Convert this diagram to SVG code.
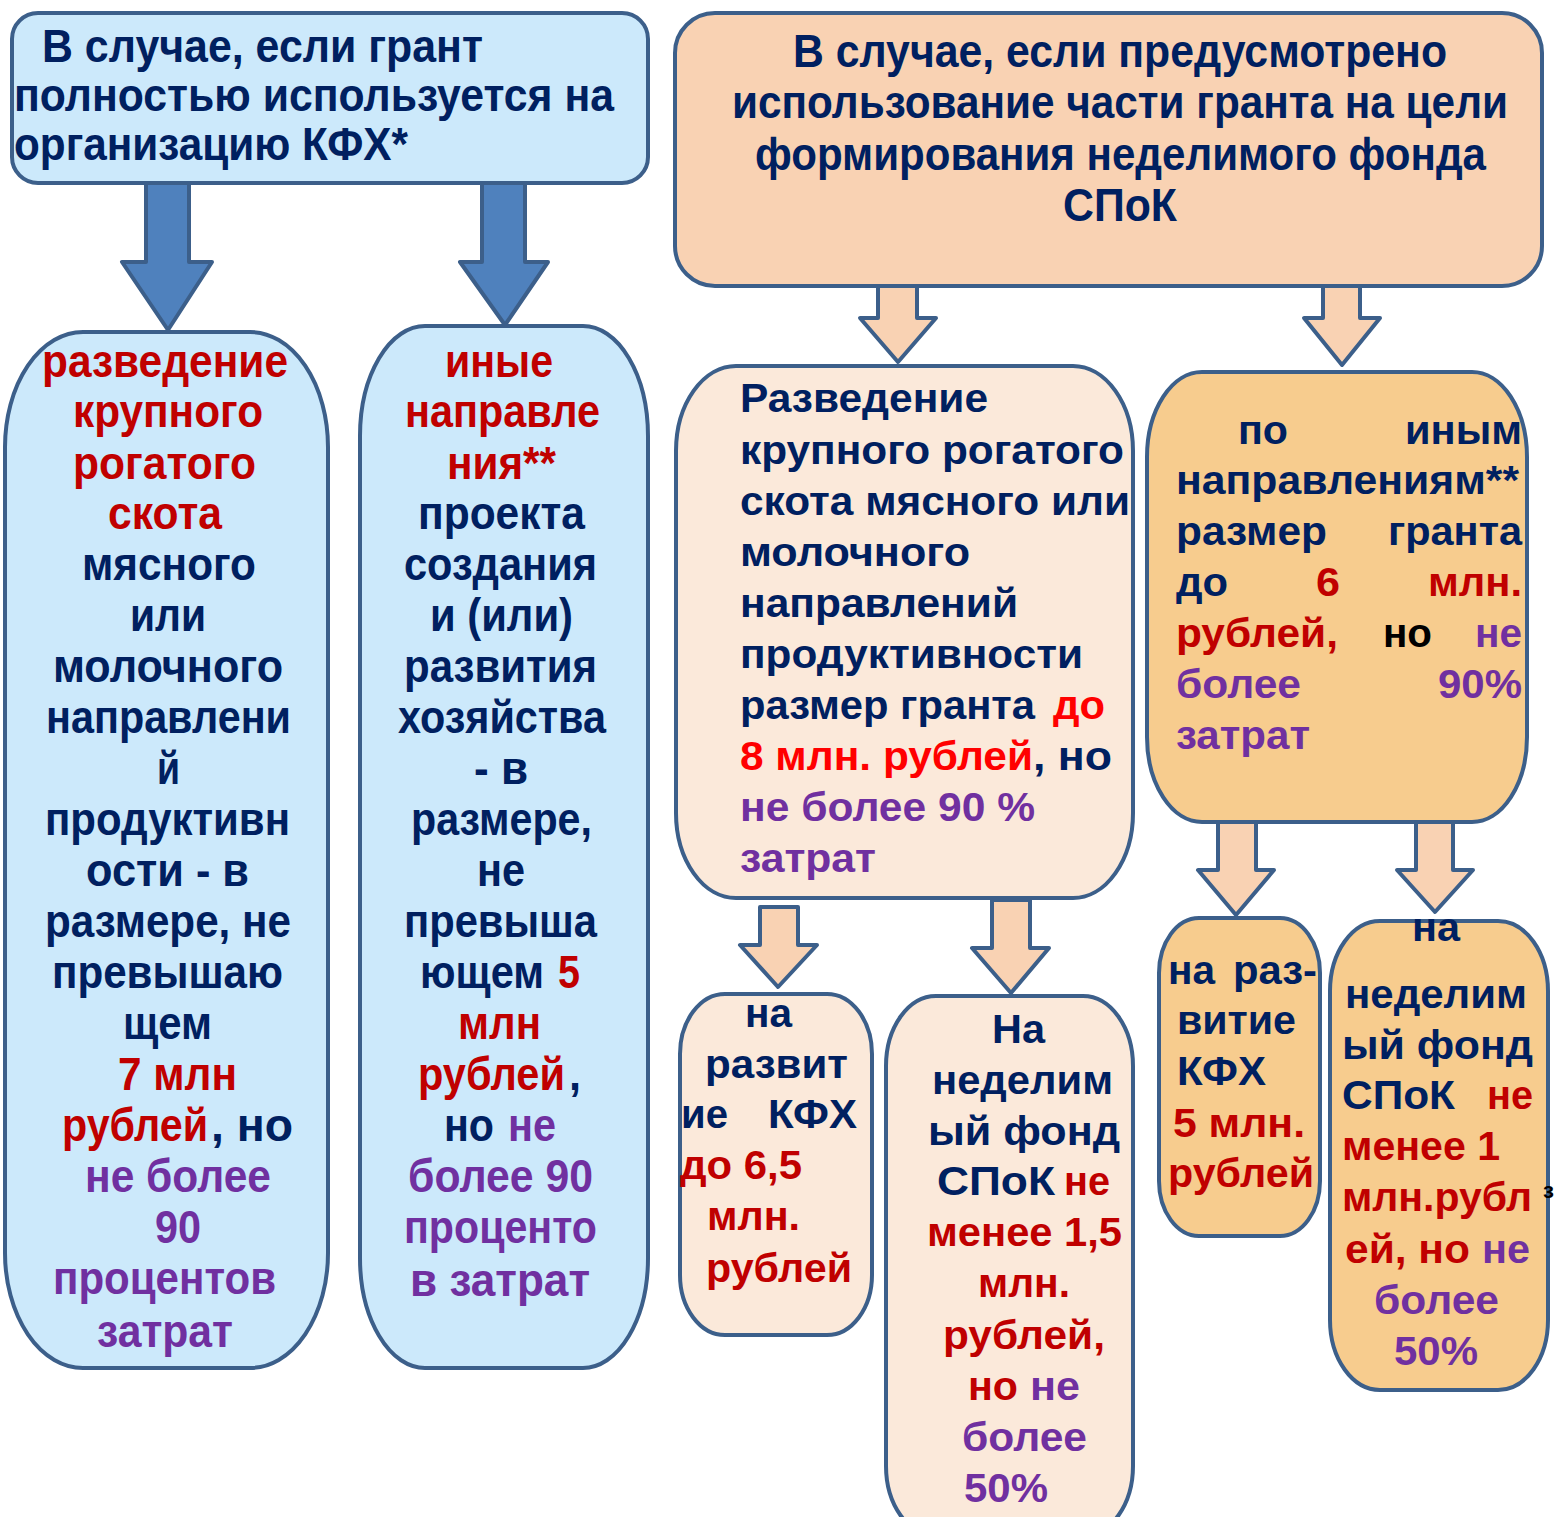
<svg xmlns="http://www.w3.org/2000/svg" width="1554" height="1517" viewBox="0 0 1554 1517">
<style>
.box{stroke:#3C5F8A;stroke-width:4}
.blue{fill:#CCE9FB}
.peach{fill:#F9D2B3}
.cream{fill:#FBE9DA}
.orange{fill:#F7CC8E}
.ab{fill:#4F81BD;stroke:#3C5F8A;stroke-width:4;stroke-linejoin:round}
.ap{fill:#F9D2B3;stroke:#3C5F8A;stroke-width:4;stroke-linejoin:round}
text{font-family:"Liberation Sans",Arial,sans-serif;font-weight:bold}
.c{font-size:46px}
.w{font-size:40px}
.n{fill:#002060}
.r{fill:#C00000}
.R{fill:#FF0000}
.p{fill:#7030A0}
.k{fill:#000000}
</style>
<rect width="1554" height="1517" fill="#FFFFFF"/>
<g id="connectors">
<polygon class="ab" points="146,183 189,183 189,262 212,262 168,330 122,262 146,262"/>
<polygon class="ab" points="482,183 525,183 525,262 548,262 505,325 460,262 482,262"/>
<polygon class="ap" points="878,286 917,286 917,318 936,318 898,362 860,318 878,318"/>
<polygon class="ap" points="1323,286 1360,286 1360,318 1380,318 1342,365 1304,318 1323,318"/>
<polygon class="ap" points="760,907 798,907 798,945 817,945 778,987 740,945 760,945"/>
<polygon class="ap" points="992,900 1030,900 1030,948 1049,948 1011,993 972,948 992,948"/>
<polygon class="ap" points="1218,822 1256,822 1256,870 1274,870 1236,915 1198,870 1218,870"/>
<polygon class="ap" points="1416,822 1453,822 1453,870 1473,870 1435,912 1397,870 1416,870"/>
</g>
<g id="top-left">
<rect class="box blue" x="12" y="13" width="636" height="170" rx="26" ry="26"/>
<text class="c n" x="42" y="62" textLength="441" lengthAdjust="spacingAndGlyphs">В случае, если грант</text>
<text class="c n" x="14" y="111" textLength="600" lengthAdjust="spacingAndGlyphs">полностью  используется на</text>
<text class="c n" x="14" y="160" textLength="394" lengthAdjust="spacingAndGlyphs">организацию КФХ*</text>
</g>
<g id="top-right">
<rect class="box peach" x="675" y="13" width="867" height="273" rx="40" ry="40"/>
<text class="c n" x="793" y="67" textLength="654" lengthAdjust="spacingAndGlyphs">В случае, если предусмотрено</text>
<text class="c n" x="732" y="118" textLength="776" lengthAdjust="spacingAndGlyphs">использование части гранта на цели</text>
<text class="c n" x="755" y="170" textLength="731" lengthAdjust="spacingAndGlyphs">формирования  неделимого фонда</text>
<text class="c n" x="1063" y="221" textLength="114" lengthAdjust="spacingAndGlyphs">СПоК</text>
</g>
<g id="col-1">
<rect class="box blue" x="5" y="332" width="323" height="1036" rx="78" ry="115"/>
<text class="c r" x="42" y="377" textLength="246" lengthAdjust="spacingAndGlyphs">разведение</text>
<text class="c r" x="73" y="427" textLength="190" lengthAdjust="spacingAndGlyphs">крупного</text>
<text class="c r" x="73" y="479" textLength="183" lengthAdjust="spacingAndGlyphs">рогатого</text>
<text class="c r" x="108" y="529" textLength="114" lengthAdjust="spacingAndGlyphs">скота</text>
<text class="c n" x="82" y="580" textLength="174" lengthAdjust="spacingAndGlyphs">мясного</text>
<text class="c n" x="130" y="631" textLength="76" lengthAdjust="spacingAndGlyphs">или</text>
<text class="c n" x="53" y="682" textLength="230" lengthAdjust="spacingAndGlyphs">молочного</text>
<text class="c n" x="46" y="733" textLength="245" lengthAdjust="spacingAndGlyphs">направлени</text>
<text class="c n" x="157" y="784" textLength="23" lengthAdjust="spacingAndGlyphs">й</text>
<text class="c n" x="45" y="835" textLength="245" lengthAdjust="spacingAndGlyphs">продуктивн</text>
<text class="c n" x="86" y="886" textLength="163" lengthAdjust="spacingAndGlyphs">ости -  в</text>
<text class="c n" x="45" y="937" textLength="246" lengthAdjust="spacingAndGlyphs">размере, не</text>
<text class="c n" x="52" y="988" textLength="231" lengthAdjust="spacingAndGlyphs">превышаю</text>
<text class="c n" x="123" y="1039" textLength="89" lengthAdjust="spacingAndGlyphs">щем</text>
<text class="c r" x="118" y="1090" textLength="119" lengthAdjust="spacingAndGlyphs">7 млн</text>
<text class="c r" x="62" y="1141" textLength="146" lengthAdjust="spacingAndGlyphs">рублей</text>
<text class="c n" x="211" y="1141" textLength="82" lengthAdjust="spacingAndGlyphs">,  но</text>
<text class="c p" x="85" y="1192" textLength="186" lengthAdjust="spacingAndGlyphs">не более</text>
<text class="c p" x="155" y="1243" textLength="46" lengthAdjust="spacingAndGlyphs">90</text>
<text class="c p" x="53" y="1294" textLength="223" lengthAdjust="spacingAndGlyphs">процентов</text>
<text class="c p" x="97" y="1347" textLength="136" lengthAdjust="spacingAndGlyphs">затрат</text>
</g>
<g id="col-2">
<rect class="box blue" x="360" y="326" width="288" height="1042" rx="65" ry="110"/>
<text class="c r" x="445" y="377" textLength="108" lengthAdjust="spacingAndGlyphs">иные</text>
<text class="c r" x="405" y="427" textLength="195" lengthAdjust="spacingAndGlyphs">направле</text>
<text class="c r" x="447" y="479" textLength="109" lengthAdjust="spacingAndGlyphs">ния**</text>
<text class="c n" x="418" y="529" textLength="167" lengthAdjust="spacingAndGlyphs">проекта</text>
<text class="c n" x="404" y="580" textLength="193" lengthAdjust="spacingAndGlyphs">создания</text>
<text class="c n" x="430" y="631" textLength="143" lengthAdjust="spacingAndGlyphs">и (или)</text>
<text class="c n" x="404" y="682" textLength="193" lengthAdjust="spacingAndGlyphs">развития</text>
<text class="c n" x="398" y="733" textLength="208" lengthAdjust="spacingAndGlyphs">хозяйства</text>
<text class="c n" x="474" y="784" textLength="54" lengthAdjust="spacingAndGlyphs">- в</text>
<text class="c n" x="411" y="835" textLength="181" lengthAdjust="spacingAndGlyphs">размере,</text>
<text class="c n" x="477" y="886" textLength="48" lengthAdjust="spacingAndGlyphs">не</text>
<text class="c n" x="404" y="937" textLength="193" lengthAdjust="spacingAndGlyphs">превыша</text>
<text class="c n" x="420" y="988" textLength="124" lengthAdjust="spacingAndGlyphs">ющем</text>
<text class="c r" x="558" y="988" textLength="22" lengthAdjust="spacingAndGlyphs">5</text>
<text class="c r" x="458" y="1039" textLength="83" lengthAdjust="spacingAndGlyphs">млн</text>
<text class="c r" x="418" y="1090" textLength="147" lengthAdjust="spacingAndGlyphs">рублей</text>
<text class="c n" x="569" y="1090" textLength="12" lengthAdjust="spacingAndGlyphs">,</text>
<text class="c n" x="444" y="1141" textLength="50" lengthAdjust="spacingAndGlyphs">но</text>
<text class="c p" x="508" y="1141" textLength="48" lengthAdjust="spacingAndGlyphs">не</text>
<text class="c p" x="408" y="1192" textLength="185" lengthAdjust="spacingAndGlyphs">более 90</text>
<text class="c p" x="404" y="1243" textLength="193" lengthAdjust="spacingAndGlyphs">проценто</text>
<text class="c p" x="410" y="1296" textLength="180" lengthAdjust="spacingAndGlyphs">в   затрат</text>
</g>
<g id="mid">
<rect class="box cream" x="676" y="366" width="457" height="532" rx="60" ry="85"/>
<text class="w n" x="740" y="412" textLength="248" lengthAdjust="spacingAndGlyphs">Разведение</text>
<text class="w n" x="740" y="464" textLength="384" lengthAdjust="spacingAndGlyphs">крупного рогатого</text>
<text class="w n" x="740" y="515" textLength="390" lengthAdjust="spacingAndGlyphs">скота мясного или</text>
<text class="w n" x="740" y="566" textLength="230" lengthAdjust="spacingAndGlyphs">молочного</text>
<text class="w n" x="740" y="617" textLength="278" lengthAdjust="spacingAndGlyphs">направлений</text>
<text class="w n" x="740" y="668" textLength="343" lengthAdjust="spacingAndGlyphs">продуктивности</text>
<text class="w n" x="740" y="719" textLength="295" lengthAdjust="spacingAndGlyphs">размер гранта</text>
<text class="w R" x="1053" y="719" textLength="52" lengthAdjust="spacingAndGlyphs">до</text>
<text class="w R" x="740" y="770" textLength="293" lengthAdjust="spacingAndGlyphs">8 млн. рублей</text>
<text class="w n" x="1033" y="770" textLength="79" lengthAdjust="spacingAndGlyphs">, но</text>
<text class="w p" x="740" y="821" textLength="295" lengthAdjust="spacingAndGlyphs">не более 90 %</text>
<text class="w p" x="740" y="872" textLength="136" lengthAdjust="spacingAndGlyphs">затрат</text>
</g>
<g id="right">
<rect class="box orange" x="1147" y="372" width="380" height="450" rx="55" ry="85"/>
<text class="w n" x="1238" y="444" textLength="50" lengthAdjust="spacingAndGlyphs">по</text>
<text class="w n" x="1405" y="444" textLength="117" lengthAdjust="spacingAndGlyphs">иным</text>
<text class="w n" x="1176" y="494" textLength="343" lengthAdjust="spacingAndGlyphs">направлениям**</text>
<text class="w n" x="1176" y="545" textLength="151" lengthAdjust="spacingAndGlyphs">размер</text>
<text class="w n" x="1388" y="545" textLength="134" lengthAdjust="spacingAndGlyphs">гранта</text>
<text class="w n" x="1176" y="596" textLength="52" lengthAdjust="spacingAndGlyphs">до</text>
<text class="w r" x="1316" y="596" textLength="24" lengthAdjust="spacingAndGlyphs">6</text>
<text class="w r" x="1428" y="596" textLength="94" lengthAdjust="spacingAndGlyphs">млн.</text>
<text class="w r" x="1176" y="647" textLength="162" lengthAdjust="spacingAndGlyphs">рублей,</text>
<text class="w k" x="1383" y="647" textLength="49" lengthAdjust="spacingAndGlyphs">но</text>
<text class="w p" x="1475" y="647" textLength="47" lengthAdjust="spacingAndGlyphs">не</text>
<text class="w p" x="1176" y="698" textLength="125" lengthAdjust="spacingAndGlyphs">более</text>
<text class="w p" x="1438" y="698" textLength="84" lengthAdjust="spacingAndGlyphs">90%</text>
<text class="w p" x="1176" y="749" textLength="134" lengthAdjust="spacingAndGlyphs">затрат</text>
</g>
<g id="kfh-65">
<rect class="box cream" x="680" y="994" width="192" height="341" rx="45" ry="60"/>
<text class="w n" x="745" y="1027" textLength="47" lengthAdjust="spacingAndGlyphs">на</text>
<text class="w n" x="705" y="1078" textLength="143" lengthAdjust="spacingAndGlyphs">развит</text>
<text class="w n" x="681" y="1128" textLength="47" lengthAdjust="spacingAndGlyphs">ие</text>
<text class="w n" x="768" y="1128" textLength="89" lengthAdjust="spacingAndGlyphs">КФХ</text>
<text class="w r" x="680" y="1179" textLength="122" lengthAdjust="spacingAndGlyphs">до 6,5</text>
<text class="w r" x="707" y="1230" textLength="93" lengthAdjust="spacingAndGlyphs">млн.</text>
<text class="w r" x="706" y="1282" textLength="146" lengthAdjust="spacingAndGlyphs">рублей</text>
</g>
<g id="fund-15">
<rect class="box cream" x="886" y="996" width="247" height="540" rx="50" ry="70"/>
<text class="w n" x="992" y="1043" textLength="53" lengthAdjust="spacingAndGlyphs">На</text>
<text class="w n" x="932" y="1094" textLength="181" lengthAdjust="spacingAndGlyphs">неделим</text>
<text class="w n" x="928" y="1145" textLength="192" lengthAdjust="spacingAndGlyphs">ый фонд</text>
<text class="w n" x="937" y="1195" textLength="118" lengthAdjust="spacingAndGlyphs">СПоК</text>
<text class="w r" x="1064" y="1195" textLength="46" lengthAdjust="spacingAndGlyphs">не</text>
<text class="w r" x="927" y="1246" textLength="195" lengthAdjust="spacingAndGlyphs">менее 1,5</text>
<text class="w r" x="978" y="1297" textLength="92" lengthAdjust="spacingAndGlyphs">млн.</text>
<text class="w r" x="943" y="1349" textLength="162" lengthAdjust="spacingAndGlyphs">рублей,</text>
<text class="w r" x="968" y="1400" textLength="50" lengthAdjust="spacingAndGlyphs">но</text>
<text class="w p" x="1030" y="1400" textLength="50" lengthAdjust="spacingAndGlyphs">не</text>
<text class="w p" x="962" y="1451" textLength="125" lengthAdjust="spacingAndGlyphs">более</text>
<text class="w p" x="964" y="1502" textLength="84" lengthAdjust="spacingAndGlyphs">50%</text>
</g>
<g id="kfh-5">
<rect class="box orange" x="1159" y="918" width="161" height="318" rx="40" ry="55"/>
<text class="w n" x="1168" y="984" textLength="47" lengthAdjust="spacingAndGlyphs">на</text>
<text class="w n" x="1233" y="984" textLength="84" lengthAdjust="spacingAndGlyphs">раз-</text>
<text class="w n" x="1177" y="1034" textLength="119" lengthAdjust="spacingAndGlyphs">витие</text>
<text class="w n" x="1177" y="1085" textLength="89" lengthAdjust="spacingAndGlyphs">КФХ</text>
<text class="w r" x="1173" y="1137" textLength="132" lengthAdjust="spacingAndGlyphs">5 млн.</text>
<text class="w r" x="1168" y="1187" textLength="146" lengthAdjust="spacingAndGlyphs">рублей</text>
</g>
<g id="fund-1">
<rect class="box orange" x="1330" y="921" width="218" height="469" rx="50" ry="70"/>
<text class="w n" x="1412" y="941" textLength="48" lengthAdjust="spacingAndGlyphs">на</text>
<text class="w n" x="1345" y="1008" textLength="182" lengthAdjust="spacingAndGlyphs">неделим</text>
<text class="w n" x="1342" y="1059" textLength="191" lengthAdjust="spacingAndGlyphs">ый  фонд</text>
<text class="w n" x="1342" y="1109" textLength="113" lengthAdjust="spacingAndGlyphs">СПоК</text>
<text class="w r" x="1487" y="1109" textLength="46" lengthAdjust="spacingAndGlyphs">не</text>
<text class="w r" x="1342" y="1160" textLength="158" lengthAdjust="spacingAndGlyphs">менее 1</text>
<text class="w r" x="1342" y="1211" textLength="190" lengthAdjust="spacingAndGlyphs">млн.рубл</text>
<text class="w r" x="1345" y="1263" textLength="125" lengthAdjust="spacingAndGlyphs">ей, но</text>
<text class="w p" x="1482" y="1263" textLength="48" lengthAdjust="spacingAndGlyphs">не</text>
<text class="w p" x="1374" y="1314" textLength="125" lengthAdjust="spacingAndGlyphs">более</text>
<text class="w p" x="1394" y="1365" textLength="84" lengthAdjust="spacingAndGlyphs">50%</text>
<text class="k" x="1543" y="1198" style="font-size:22px">з</text>
</g>
</svg>
